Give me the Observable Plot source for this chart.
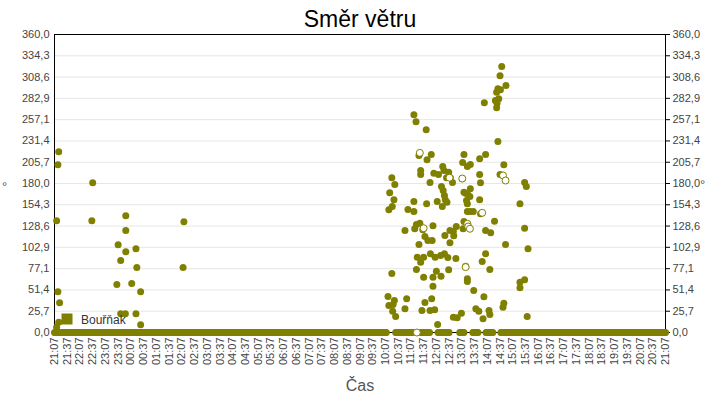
<!DOCTYPE html>
<html><head><meta charset="utf-8">
<script src="https://cdn.jsdelivr.net/npm/d3@7"></script>
<script src="https://cdn.jsdelivr.net/npm/@observablehq/plot@0.6"></script>
<style>
body{margin:0;background:#fff;}
#wrap{width:720px;height:400px;}
</style></head><body><div id="wrap"></div>
<script>
const title = "Směr větru";
const xLabel = "Čas";
const yUnit = "°";
const seriesName = "Bouřňak";
const olive = "#808000";

const xTickLabels = ["21:07","21:37","22:07","22:37","23:07","23:37","00:07","00:37","01:07","01:37","02:07","02:37","03:07","03:37","04:07","04:37","05:07","05:37","06:07","06:37","07:07","07:37","08:07","08:37","09:07","09:37","10:07","10:37","11:07","11:37","12:07","12:37","13:07","13:37","14:07","14:37","15:07","15:37","16:07","16:37","17:07","17:37","18:07","18:37","19:07","19:37","20:07","20:37","21:07"];
const yTickLabels = ["0,0","25,7","51,4","77,1","102,9","128,6","154,3","180,0","205,7","231,4","257,1","282,9","308,6","334,3","360,0"];

// runs of zero readings (sampled every 2 minutes)
const zeroRuns = [["21:07","10:10"],["10:31","11:12"],["11:31","11:52"],["12:11","12:38"],["13:02","13:12"],["13:33","13:45"],["14:04","14:20"],["14:39","21:07"]];
const zeroStepMinutes = 2;

// non-zero readings (filled markers)
const dotTimes = ["21:12","21:12","21:15","21:15","21:17","21:17","21:19","22:35","22:37","23:34","23:37","23:43","23:43","23:54","23:55","23:55","23:55","00:09","00:19","00:19","00:21","00:30","00:30","02:10","02:12",
"10:13","10:15","10:15","10:17","10:22","10:22","10:23","10:24","10:25","10:27","10:28","10:29","10:31","10:53","10:53","10:57","11:00",
"11:14","11:14","11:14","11:16","11:19","11:20","11:20","11:22","11:26","11:26","11:28","11:30","11:30","11:30","11:33","11:35","11:37","11:37","11:40","11:40","11:43","11:44","11:45","11:47","11:52","11:52","11:53","11:55","11:56","11:57","11:59","11:59","11:59",
"12:01","12:03","12:04","12:07","12:09","12:10","12:12","12:17","12:18","12:19","12:21","12:22","12:23","12:25","12:26","12:26","12:27","12:28","12:31","12:32","12:34","12:36","12:36","12:39","12:39","12:40","12:45","12:47","12:47","12:48","12:53","12:54","12:56",
"13:06","13:08","13:09","13:10","13:12","13:12","13:12","13:16","13:16","13:18","13:20","13:20","13:20","13:20","13:20","13:20","13:20","13:26","13:27","13:27","13:27","13:34","13:35","13:40","13:47","13:49","13:49","13:49","13:51","13:51","13:55","13:57","13:59",
"14:00","14:03","14:03","14:03","14:11","14:13","14:13","14:15","14:24","14:26","14:29","14:29","14:30","14:32","14:32","14:34","14:37","14:37","14:38","14:41","14:44","14:46","14:46","14:50","14:51",
"15:24","15:24","15:24","15:35","15:35","15:35","15:39","15:41","15:43"];
const dotValues = [6.4,134.9,202.6,49.1,218.3,12.5,35.9,134.9,180.8,58.0,106.0,87.0,22.6,22.6,141.0,123.2,97.5,59.2,101.1,22.6,78.5,49.1,9.3,78.5,133.7,
43.5,32.6,148.2,168.8,186.9,71.3,152.2,25.7,33.8,160.3,38.7,178.8,19.3,123.2,28.6,40.7,148.6,
263.0,158.3,146.2,125.3,254.5,130.5,76.1,91.0,213.8,106.3,132.0,195.7,190.9,85.0,26.6,124.1,66.8,91.0,116.0,36.2,244.9,155.5,208.6,111.1,181.2,26.6,95.1,215.0,40.7,111.1,128.9,66.8,55.9,
192.5,27.4,91.0,74.0,158.3,9.7,190.9,93.0,68.0,176.4,152.2,200.5,171.5,195.7,165.5,95.1,117.2,160.3,186.9,157.4,90.5,193.6,75.7,123.2,108.4,186.9,181.2,122.0,18.5,116.8,89.3,128.1,17.8,
23.3,185.7,205.4,125.3,215.0,169.5,134.1,80.1,168.3,159.5,200.5,167.6,155.5,146.2,130.5,64.9,61.6,164.3,203.0,173.6,146.2,146.2,50.7,28.6,25.7,209.8,190.9,160.3,180.8,143.4,85.8,16.5,43.1,
277.5,215.0,123.2,95.1,26.6,76.1,21.7,120.4,134.5,280.3,290.3,271.5,277.0,294.4,230.7,282.3,310.1,190.9,293.2,321.3,30.6,202.6,35.4,106.3,298.4,
155.5,60.8,54.0,181.2,126.0,63.7,176.4,19.3,101.1];

// readings drawn with hollow markers
const ringTimes = ["11:21","11:28","11:37","12:38","13:08","13:16","13:20","13:22","13:26","13:55","14:44","14:50"];
const ringValues = [0,217.0,126.0,187.0,186.0,79.0,131.3,128.0,125.3,144.6,189.7,183.6];

const START = 21*60+7;
function toDate(s, prev){
  const [h,m] = s.split(":").map(Number);
  const mins = h*60+m;
  const day = mins >= START ? 0 : 1;
  let d = new Date(Date.UTC(2024,0,1+day,h,m));
  if (prev && d < prev) d = new Date(d.getTime()+86400000);
  return d;
}
let prev = null;
const xTicks = xTickLabels.map(s => (prev = toDate(s, prev)));
const xLabelMap = new Map(xTicks.map((d,i)=>[+d, xTickLabels[i]]));
const yTicks = yTickLabels.map(s => +s.replace(",", "."));
const yLabelMap = new Map(yTicks.map((v,i)=>[v, yTickLabels[i]]));

const zeroData = [];
for (const [a,b] of zeroRuns){
  const da = toDate(a), db = toDate(b, da);
  for (let t = +da; t <= +db; t += zeroStepMinutes*60000) zeroData.push({t:new Date(t), v:0});
}
const dots = dotTimes.map((s,i)=>({t:toDate(s), v:dotValues[i]}));
const rings = ringTimes.map((s,i)=>({t:toDate(s), v:ringValues[i]}));

const font = '"Liberation Sans", Arial, sans-serif';
const chart = Plot.plot({
  width:720, height:400,
  marginLeft:54, marginRight:55, marginTop:34, marginBottom:68,
  style:{fontFamily:font, fontSize:"11px", background:"white", overflow:"visible", color:"black"},
  x:{type:"utc", domain:[xTicks[0], xTicks[xTicks.length-1]]},
  y:{domain:[0,360]},
  marks:[
    Plot.gridY(yTicks, {stroke:"#e6e6e6", strokeOpacity:1}),
    Plot.axisY(yTicks, {anchor:"left", tickSize:0, tickPadding:5, tickFormat:d=>yLabelMap.get(d), fill:"#444", label:null}),
    Plot.axisY(yTicks, {anchor:"right", tickSize:4, tickPadding:3, tickFormat:d=>yLabelMap.get(d), fill:"#444", label:null}),
    Plot.axisX(xTicks, {anchor:"bottom", tickSize:0, tickPadding:5, tickRotate:-90, tickFormat:d=>xLabelMap.get(+d), fill:"#444", label:null}),
    Plot.frame({stroke:"black"}),
    Plot.dot(zeroData, {x:"t", y:"v", r:3.5, fill:olive}),
    Plot.dot(dots, {x:"t", y:"v", r:3.5, fill:olive}),
    Plot.dot(rings, {x:"t", y:"v", r:3.5, fill:"white", stroke:olive, strokeWidth:1})
  ]
});
document.getElementById("wrap").appendChild(chart);
const svg = d3.select(chart);
function addText(x, y, size, fill, anchor, s){
  svg.append("text").attr("x",x).attr("y",y).attr("text-anchor",anchor)
    .attr("font-family",font).attr("font-size",size).attr("fill",fill).text(s);
}
addText(360, 27, 23, "#000", "middle", title);
addText(360, 391, 16, "#555", "middle", xLabel);
addText(2, 191, 13, "#555", "start", yUnit);
addText(700, 189, 13, "#555", "start", yUnit);
svg.append("rect").attr("x",61.5).attr("y",313.5).attr("width",11).attr("height",11).attr("fill",olive);
addText(81, 324, 12, "#333", "start", seriesName);
</script></body></html>
